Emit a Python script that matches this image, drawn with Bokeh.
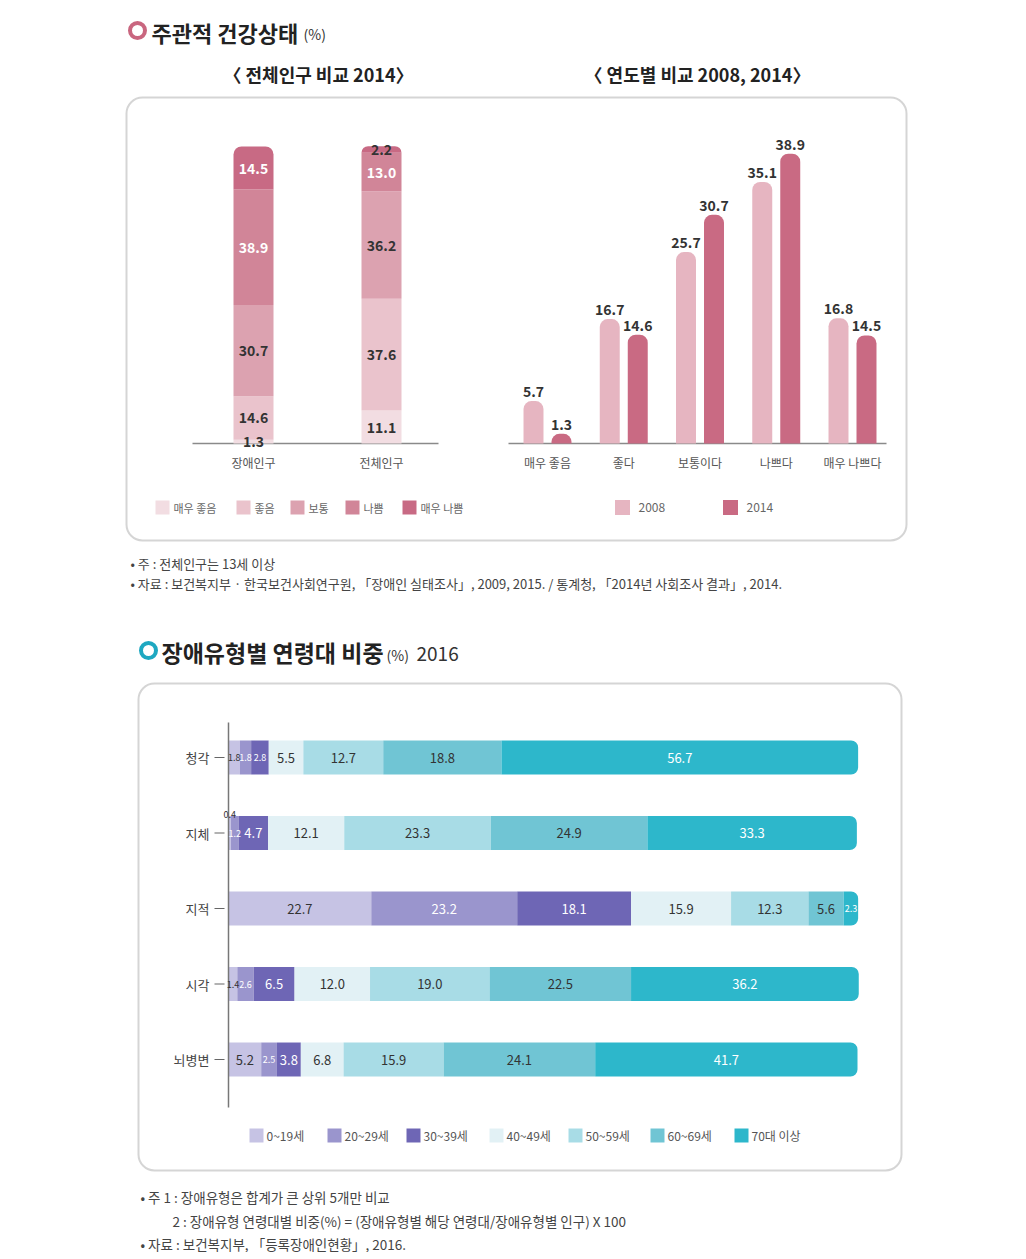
import numpy as np
from bokeh.plotting import figure
from bokeh.models import Range1d
from bokeh.core.properties import value
from bokeh.embed import file_html
from bokeh.resources import INLINE

# ---------------- data ----------------
pop_groups = ["장애인구", "전체인구"]
health_levels = ["매우 좋음", "좋음", "보통", "나쁨", "매우 나쁨"]
disabled_2014_share = [1.3, 14.6, 30.7, 38.9, 14.5]
total_2014_share = [11.1, 37.6, 36.2, 13.0, 2.2]

year_categories = ["매우 좋음", "좋다", "보통이다", "나쁘다", "매우 나쁘다"]
years = ["2008", "2014"]
disabled_2008 = [5.7, 16.7, 25.7, 35.1, 16.8]
disabled_2014 = [1.3, 14.6, 30.7, 38.9, 14.5]

disability_types = ["청각", "지체", "지적", "시각", "뇌병변"]
age_groups = ["0~19세", "20~29세", "30~39세", "40~49세", "50~59세", "60~69세", "70대 이상"]
hearing = [1.8, 1.8, 2.8, 5.5, 12.7, 18.8, 56.7]
physical = [0.4, 1.2, 4.7, 12.1, 23.3, 24.9, 33.3]
intellectual = [22.7, 23.2, 18.1, 15.9, 12.3, 5.6, 2.3]
visual = [1.4, 2.6, 6.5, 12.0, 19.0, 22.5, 36.2]
brain_lesion = [5.2, 2.5, 3.8, 6.8, 15.9, 24.1, 41.7]

# ---------------- styles ----------------
FONT = "Noto Sans CJK KR"
A_COLORS = ["#f2dde2", "#eac3cc", "#dca2b0", "#d18598", "#c86a84"]
B_COLORS = ["#e6b5c1", "#c96a83"]
C_COLORS = ["#c6c3e4", "#9a95cd", "#6e66b5", "#e2f1f5", "#a8dce6", "#70c5d4", "#2db7cb"]

PAGE_W, PAGE_H = 1018, 1252
X0, Y0 = 0, 0

p = figure(width=PAGE_W, height=PAGE_H, output_backend="svg", toolbar_location=None,
           x_range=Range1d(X0, X0 + PAGE_W), y_range=Range1d(Y0 + PAGE_H, Y0),
           x_axis_location=None, y_axis_location=None, min_border=0,
           background_fill_color="white", border_fill_color="white")
p.grid.visible = False
p.outline_line_color = None


def mapped_range(v0, px0, v1, px1, vertical=False):
    k = (v1 - v0) / (px1 - px0)
    a, b = (Y0 + PAGE_H, Y0) if vertical else (X0, X0 + PAGE_W)
    return Range1d(start=v0 + (a - px0) * k, end=v0 + (b - px0) * k)


p.extra_x_ranges = {
    "ax": mapped_range(0, 253, 1, 381),
    "bx": mapped_range(0, 547, 4, 852),
    "cx": mapped_range(0, 228, 100, 857),
}
p.extra_y_ranges = {
    "ay": mapped_range(0, 443, 100, 146, True),
    "by": mapped_range(0, 443, 40, 145, True),
    "cy": mapped_range(0, 757, -4, 1059, True),
}


def put_text(xs, ys, texts, size, color="#333333", align="left", baseline="middle",
             bold=False, xr="default", yr="default", y_offset=0):
    p.text(x=list(xs), y=list(ys), text=list(texts), text_font=value(FONT),
           text_font_size=size, text_color=color, text_align=align,
           text_baseline=baseline, text_font_style="bold" if bold else "normal",
           y_offset=y_offset, x_range_name=xr, y_range_name=yr)


# ---------------- decorations ----------------
p.quad(left=[126], right=[906], top=[97], bottom=[540], fill_color="white",
       line_color="#d5d5d5", line_width=2, border_radius=16)
p.quad(left=[138], right=[901], top=[683], bottom=[1170], fill_color="white",
       line_color="#d5d5d5", line_width=2, border_radius=16)

p.scatter(x=[137], y=[30], size=15, marker="circle", fill_color="white",
          line_color="#c9667f", line_width=4)
put_text([151], [31], ["주관적 건강상태"], "22px", color="#222222", bold=True)
put_text([303], [33], ["(%)"], "14px", color="#333333")
put_text([318], [73], ["〈 전체인구 비교 2014〉"], "18px", color="#222222", align="center", bold=True)
put_text([697], [73], ["〈 연도별 비교 2008, 2014〉"], "18px", color="#222222", align="center", bold=True)

p.scatter(x=[148], y=[650], size=15, marker="circle", fill_color="white",
          line_color="#1ea8c1", line_width=4)
put_text([161], [651], ["장애유형별 연령대 비중"], "23px", color="#222222", bold=True)
put_text([386], [654], ["(%)"], "14px", color="#333333")
put_text([416], [653], ["2016"], "19px", color="#333333")

# ---------------- chart A: stacked ----------------
p.segment(x0=[192], x1=[438], y0=[443], y1=[443], line_color="#8a8a8a", line_width=1.5)
a_rows = np.array([disabled_2014_share, total_2014_share])
a_top = np.cumsum(a_rows, axis=1)
a_bottom = a_top - a_rows
a_x = list(range(len(pop_groups)))
n_lev = len(health_levels)
for li in range(n_lev):
    p.vbar(x=a_x, width=0.3125, bottom=a_bottom[:, li], top=a_top[:, li],
           fill_color=A_COLORS[li], line_color=None,
           border_radius=(8, 8, 0, 0) if li == n_lev - 1 else 0,
           x_range_name="ax", y_range_name="ay")
lx, ly, lt, lc = [], [], [], []
for gi in range(len(pop_groups)):
    for li in range(n_lev):
        v = a_rows[gi, li]
        lx.append(gi)
        ly.append((a_top[gi, li] + a_bottom[gi, li]) / 2)
        lt.append(f"{v:.1f}")
        lc.append("white" if (li >= 3 and v >= 5) else "#333333")
put_text(lx, ly, lt, "14px", color=lc, align="center", bold=True, xr="ax", yr="ay")
put_text(a_x, [462] * len(a_x), pop_groups, "12px", color="#555555", align="center", xr="ax")

leg_a_x = [162, 243, 297, 352, 409]
p.rect(x=leg_a_x, y=[507] * n_lev, width=14, height=14, fill_color=A_COLORS, line_color=None)
put_text([x + 11 for x in leg_a_x], [507] * n_lev, health_levels, "11px", color="#666666")

# ---------------- chart B: grouped ----------------
p.segment(x0=[508], x1=[886], y0=[443], y1=[443], line_color="#8a8a8a", line_width=1.5)
b_x = np.arange(len(year_categories))
for yi, vals in enumerate([disabled_2008, disabled_2014]):
    off = -0.1836 if yi == 0 else 0.1836
    p.vbar(x=b_x + off, width=0.262, bottom=0, top=vals, fill_color=B_COLORS[yi],
           line_color=None, border_radius=(8, 8, 0, 0), x_range_name="bx", y_range_name="by")
    put_text(b_x + off, vals, [f"{v:.1f}" for v in vals], "14px", color="#333333",
             align="center", baseline="bottom", bold=True, xr="bx", yr="by", y_offset=-4)
put_text(b_x, [462] * len(b_x), year_categories, "12px", color="#555555", align="center", xr="bx")

leg_b_x = [622, 730]
p.rect(x=leg_b_x, y=[507, 507], width=15, height=15, fill_color=B_COLORS, line_color=None)
put_text([x + 16 for x in leg_b_x], [507, 507], years, "12px", color="#666666")

# footnotes 1
put_text([130], [563], ["• 주 : 전체인구는 13세 이상"], "13px", color="#444444")
put_text([130], [583], ["• 자료 : 보건복지부 · 한국보건사회연구원, 「장애인 실태조사」, 2009, 2015. / 통계청, 「2014년 사회조사 결과」, 2014."],
         "13px", color="#444444")

# ---------------- chart C: 100% horizontal stacked ----------------
c_rows = np.array([hearing, physical, intellectual, visual, brain_lesion])
c_right = np.cumsum(c_rows, axis=1)
c_left = c_right - c_rows
c_y = [-i for i in range(len(disability_types))]
n_age = len(age_groups)
for ai in range(n_age):
    p.hbar(y=c_y, height=0.45, left=c_left[:, ai], right=c_right[:, ai],
           fill_color=C_COLORS[ai], line_color=None,
           border_radius=(0, 7, 7, 0) if ai == n_age - 1 else 0,
           x_range_name="cx", y_range_name="cy")
p.segment(x0=[228], x1=[228], y0=[722], y1=[1107], line_color="#777777", line_width=1.5)
p.segment(x0=[214] * len(c_y), x1=[224] * len(c_y), y0=c_y, y1=c_y,
          line_color="#666666", line_width=1.2, y_range_name="cy")
put_text([209] * len(c_y), c_y, disability_types, "13px", color="#444444", align="right", yr="cy")

cx, cyy, ct, cc, cs, co = [], [], [], [], [], []
for ri in range(len(disability_types)):
    for ai in range(n_age):
        v = c_rows[ri, ai]
        cx.append((c_left[ri, ai] + c_right[ri, ai]) / 2)
        cyy.append(c_y[ri])
        ct.append(f"{v:.1f}")
        cc.append("white" if ai in (1, 2, 6) and v >= 1 else "#333333")
        cs.append("13px" if v >= 3 else "9px")
        co.append(-19 if v < 1 else 0)
put_text(cx, cyy, ct, cs, color=cc, align="center", xr="cx", yr="cy", y_offset=co)

leg_c_x = [256, 334, 413, 496, 575, 657, 741]
p.rect(x=leg_c_x, y=[1135] * n_age, width=14, height=14, fill_color=C_COLORS, line_color=None)
put_text([x + 10 for x in leg_c_x], [1135] * n_age, age_groups, "12px", color="#555555")

# footnotes 2
put_text([140], [1196], ["• 주 1 : 장애유형은 합계가 큰 상위 5개만 비교"], "13.5px", color="#444444")
put_text([172], [1220], ["2 : 장애유형 연령대별 비중(%) = (장애유형별 해당 연령대/장애유형별 인구) X 100"], "13.5px", color="#444444")
put_text([140], [1243], ["• 자료 : 보건복지부, 「등록장애인현황」, 2016."], "13.5px", color="#444444")

open("out.html", "w").write(file_html(p, INLINE))
